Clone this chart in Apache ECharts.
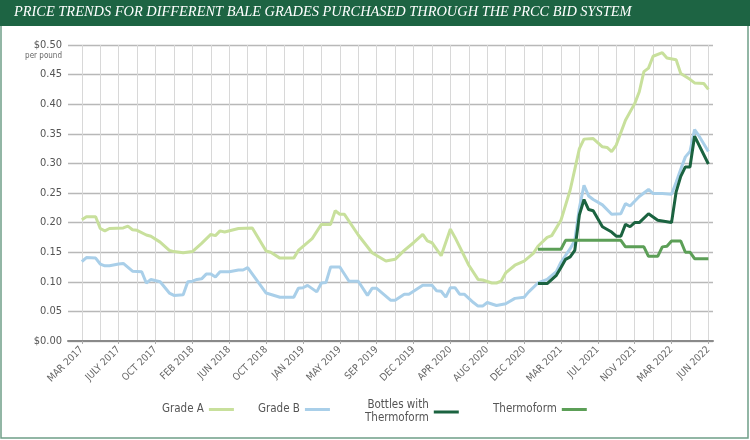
<!DOCTYPE html>
<html><head><meta charset="utf-8">
<script src="https://cdn.jsdelivr.net/npm/echarts@6/dist/echarts.min.js"></script>
<style>html,body{margin:0;padding:0;background:#fff}#c{width:750px;height:440px}</style>
</head><body><div id="c"></div>
<script>
const titleText = 'PRICE TRENDS FOR DIFFERENT BALE GRADES PURCHASED THROUGH THE PRCC BID SYSTEM';
const xTickLabels = ['MAR 2017','JULY 2017','OCT 2017','FEB 2018','JUN 2018','OCT 2018','JAN 2019','MAY 2019','SEP 2019','DEC 2019','APR 2020','AUG 2020','DEC 2020','MAR 2021','JUL 2021','NOV 2021','MAR 2022','JUN 2022'];
const yTickLabels = ['$0.00','0.05','0.10','0.15','0.20','0.25','0.30','0.35','0.40','0.45','$0.50'];
const seriesNames = ['Grade A','Grade B','Bottles with Thermoform','Thermoform'];
// [position on the time axis (category index), price $/lb]
const gradeA = [[3,.205],[4,.21],[6,.21],[7,.19],[8,.186],[9,.19],[12,.191],[13,.194],[14,.188],[15,.187],[17,.179],[18,.177],[20,.167],[22,.153],[23,.151],[25,.149],[27,.151],[29,.165],[31,.18],[32,.178],[33,.186],[34,.184],[37,.19],[40,.191],[43,.152],[44,.15],[46,.14],[49,.14],[50,.153],[53,.173],[55,.197],[57,.197],[58,.22],[59,.214],[60,.214],[63,.179],[66,.149],[69,.135],[71,.138],[73,.153],[75,.166],[77,.18],[78,.169],[79,.166],[81,.144],[83,.189],[84,.175],[87,.128],[89,.104],[90,.103],[92,.098],[93,.098],[94,.101],[95,.115],[97,.128],[99,.135],[101,.148],[102,.16],[104,.175],[105,.178],[107,.204],[109,.255],[110,.29],[111,.325],[112,.341],[114,.342],[116,.328],[117,.327],[118,.32],[119,.331],[121,.373],[123,.401],[124,.421],[125,.455],[126,.461],[127,.481],[129,.487],[130,.478],[132,.475],[133,.452],[135,.442],[136,.436],[138,.435],[139,.425]];
const gradeB = [[3,.134],[4,.141],[6,.14],[7,.13],[8,.127],[9,.127],[11,.13],[12,.131],[14,.118],[16,.117],[17,.098],[18,.104],[20,.1],[22,.081],[23,.077],[25,.078],[26,.1],[27,.101],[28,.104],[29,.105],[30,.113],[31,.113],[32,.108],[33,.117],[35,.117],[37,.12],[38,.12],[39,.124],[43,.081],[46,.074],[49,.074],[50,.089],[51,.09],[52,.094],[54,.083],[55,.098],[56,.099],[57,.125],[59,.125],[61,.101],[63,.101],[65,.077],[66,.089],[67,.089],[70,.069],[71,.069],[73,.079],[74,.079],[77,.094],[79,.094],[80,.085],[81,.084],[82,.074],[83,.09],[84,.09],[85,.079],[86,.079],[88,.065],[89,.059],[90,.059],[91,.065],[93,.06],[95,.063],[97,.072],[99,.074],[100,.083],[102,.098],[104,.104],[106,.117],[107,.133],[109,.156],[110,.17],[111,.225],[112,.263],[113,.245],[114,.239],[116,.23],[118,.214],[120,.215],[121,.232],[122,.228],[124,.244],[126,.256],[127,.249],[129,.249],[131,.248],[132,.268],[133,.29],[134,.311],[135,.32],[136,.357],[137,.346],[139,.32]];
const bottles = [[102,.097],[104,.097],[106,.111],[107,.124],[108,.138],[109,.142],[110,.153],[111,.213],[112,.239],[113,.222],[114,.22],[116,.193],[118,.184],[119,.177],[120,.177],[121,.197],[122,.193],[123,.2],[124,.2],[126,.215],[128,.204],[131,.2],[132,.252],[133,.278],[134,.294],[135,.294],[136,.346],[139,.299]];
const thermoform = [[102,.155],[107,.155],[108,.17],[120,.17],[121,.159],[125,.159],[126,.143],[128,.143],[129,.159],[130,.16],[131,.169],[133,.169],[134,.15],[135,.15],[136,.139],[139,.139]];

const LEAD = 3, STEP = 8, TRAIL = 1;
const categories = [];
for (let i = 0; i < LEAD; i++) categories.push('');
xTickLabels.forEach((l, k) => {
  categories.push(l);
  if (k < xTickLabels.length - 1) for (let j = 1; j < STEP; j++) categories.push('');
});
for (let i = 0; i < TRAIL; i++) categories.push('');

// pick a narrow font if one is installed
const ctx = document.createElement('canvas').getContext('2d');
function w(f) { ctx.font = '20px ' + f; return ctx.measureText('Grade A 0.45 MAR').width; }
const hasNarrow = w('"Liberation Sans Narrow", monospace') !== w('monospace');
const FONT = hasNarrow ? "'Liberation Sans Narrow', sans-serif" : "'DejaVu Sans Condensed', 'DejaVu Sans', sans-serif";
const SZ = hasNarrow ? {y: 13, x: 11, lg: 12.5, pp: 9} : {y: 11, x: 10, lg: 11.5, pp: 8};

const colors = ['#c8e09c', '#a9cfe9', '#1b6340', '#5c9f57'];
const datasets = [gradeA, gradeB, bottles, thermoform];

const chart = echarts.init(document.getElementById('c'), null, {renderer: 'canvas'});
const legendLeft = [162, 258, 365, 493];
chart.setOption({
  backgroundColor: '#fff',
  animation: false,
  graphic: [
    {type: 'rect', shape: {x: 0, y: 0, width: 750, height: 26}, style: {fill: '#1d6443'}, z: 10},
    {type: 'rect', shape: {x: 1, y: 1, width: 747, height: 437}, style: {fill: 'none', stroke: '#6f9f88', lineWidth: 1.5}, z: 9},
    {type: 'text', left: 14, top: 5, z: 11, style: {text: titleText, fill: '#fff', font: 'italic 14.4px "Liberation Serif", serif'}},
    {type: 'text', right: 688, top: 52, z: 11, style: {text: 'per pound', fill: '#666', font: SZ.pp + 'px ' + FONT, textAlign: 'right'}}
  ],
  grid: {left: 68, right: 37, top: 45, bottom: 99},
  legend: seriesNames.map((n, i) => ({
    data: [n], left: legendLeft[i], top: i === 2 ? 399 : 403, padding: 0,
    align: 'right', itemWidth: 25, itemHeight: 3, icon: 'rect',
    formatter: name => name === 'Bottles with Thermoform' ? 'Bottles with\nThermoform' : name,
    textStyle: {fontFamily: FONT, fontSize: SZ.lg, color: '#555', lineHeight: 13}
  })),
  xAxis: {
    type: 'category', data: categories, boundaryGap: false,
    axisLine: {lineStyle: {color: '#8a8a8a', width: 2}},
    axisTick: {show: true, length: 3, interval: (i) => i >= LEAD && (i - LEAD) % STEP === 0, lineStyle: {color: '#aaa'}},
    axisLabel: {interval: (i) => i >= LEAD && (i - LEAD) % STEP === 0, rotate: 45, margin: 7,
      fontFamily: FONT, fontSize: SZ.x, color: '#666'},
    splitLine: {show: true, interval: (i) => i >= LEAD && (i - LEAD) % (STEP / 2) === 0, lineStyle: {color: '#d8d8d8', width: 1}}
  },
  yAxis: {
    type: 'value', min: 0, max: 0.5, interval: 0.05,
    axisLine: {show: false}, axisTick: {show: false},
    axisLabel: {margin: 6, formatter: v => yTickLabels[Math.round(v / 0.05)], fontFamily: FONT, fontSize: SZ.y, color: '#555'},
    splitLine: {lineStyle: {color: '#b8b8b8', width: 1.3}}
  },
  series: seriesNames.map((n, i) => ({
    name: n, type: 'line', data: datasets[i], showSymbol: false, connectNulls: true,
    color: colors[i], lineStyle: {width: 3, color: colors[i]}, z: 2 + i
  }))
});
</script></body></html>
